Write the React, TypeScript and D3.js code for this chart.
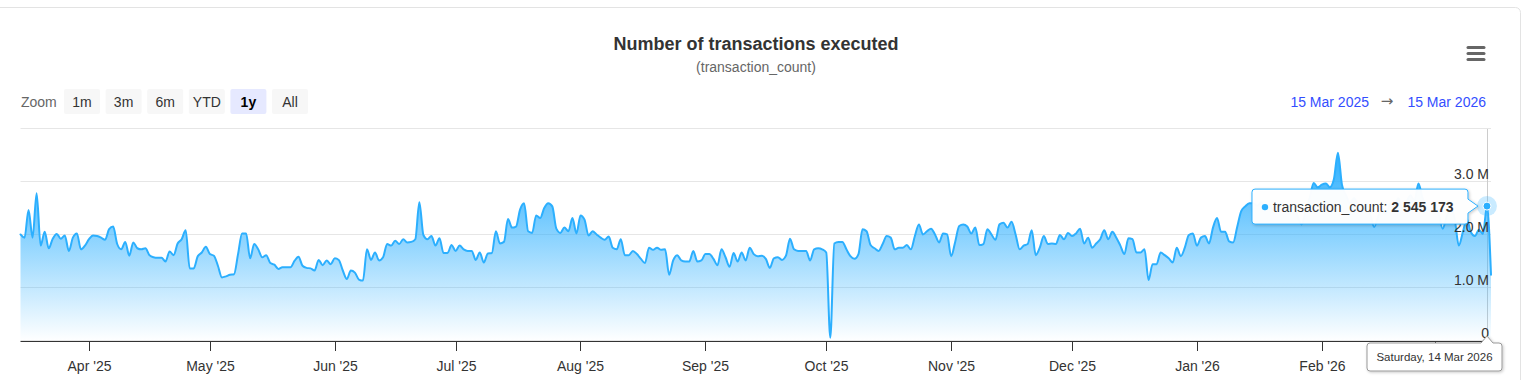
import React from "react";
import * as d3 from "d3";

// ---- data: daily transaction counts (millions), starting 15 Mar 2025 ----
const START = Date.UTC(2025, 2, 15);
const END = Date.UTC(2026, 2, 15);
const DAY = 86400000;

const mar2025 = [2.01, 1.95, 2.47, 1.95, 2.79, 1.8, 2.06, 1.75, 1.93, 2.02, 1.93, 1.99, 1.7, 1.95, 2.03, 1.73, 1.8];
const apr2025 = [1.92, 1.99, 1.98, 1.95, 1.91, 2.11, 2.16, 1.83, 1.73, 1.87, 1.61, 1.86, 1.75, 1.73, 1.75, 1.62, 1.58, 1.57, 1.57, 1.5, 1.69, 1.62, 1.84, 1.92, 2.09, 1.37, 1.37, 1.6, 1.67, 1.78];
const may2025 = [1.64, 1.61, 1.42, 1.2, 1.22, 1.25, 1.26, 1.64, 2.03, 2.03, 1.56, 1.83, 1.73, 1.58, 1.62, 1.47, 1.44, 1.36, 1.39, 1.39, 1.39, 1.51, 1.59, 1.42, 1.38, 1.37, 1.33, 1.53, 1.43, 1.52, 1.45];
const jun2025 = [1.56, 1.53, 1.33, 1.17, 1.33, 1.29, 1.16, 1.14, 1.73, 1.53, 1.67, 1.52, 1.58, 1.83, 1.8, 1.89, 1.83, 1.92, 1.86, 1.87, 1.92, 2.62, 2.0, 1.92, 1.98, 1.8, 1.94, 1.66, 1.66, 1.81];
const jul2025 = [1.7, 1.8, 1.73, 1.7, 1.7, 1.53, 1.67, 1.48, 1.65, 1.66, 2.07, 1.84, 1.87, 2.3, 2.14, 2.16, 2.48, 2.6, 2.07, 2.04, 2.37, 2.32, 2.51, 2.6, 2.54, 2.12, 2.04, 2.14, 2.07, 2.32, 2.03];
const aug2025 = [2.37, 2.29, 1.99, 2.07, 2.01, 1.95, 1.91, 1.97, 1.76, 1.73, 1.92, 1.62, 1.62, 1.7, 1.64, 1.55, 1.47, 1.76, 1.72, 1.76, 1.72, 1.73, 1.25, 1.52, 1.62, 1.52, 1.5, 1.5, 1.7, 1.5, 1.52];
const sep2025 = [1.64, 1.64, 1.55, 1.43, 1.73, 1.58, 1.4, 1.66, 1.5, 1.67, 1.52, 1.76, 1.64, 1.6, 1.61, 1.55, 1.38, 1.56, 1.58, 1.53, 1.61, 1.93, 1.73, 1.7, 1.7, 1.7, 1.52, 1.73, 1.75, 1.73];
const oct2025 = [1.67, 0.06, 1.84, 1.87, 1.87, 1.73, 1.6, 1.55, 1.64, 2.11, 2.07, 1.81, 1.75, 1.7, 1.83, 1.98, 1.95, 1.73, 1.76, 1.76, 1.81, 1.73, 1.98, 2.2, 2.01, 2.07, 2.12, 2.01, 1.86, 2.03, 2.01];
const nov2025 = [1.6, 1.87, 2.17, 2.2, 2.16, 2.03, 2.14, 1.81, 1.83, 2.11, 2.01, 1.91, 2.2, 2.23, 2.14, 2.25, 2.01, 1.73, 1.8, 1.83, 2.09, 1.62, 1.76, 1.98, 1.83, 1.84, 1.83, 2.0, 1.92, 2.04];
const dec2025 = [1.98, 2.03, 2.12, 1.84, 1.95, 1.76, 1.84, 1.92, 2.09, 1.92, 2.06, 1.95, 1.8, 1.64, 1.94, 1.92, 1.67, 1.67, 1.73, 1.15, 1.45, 1.45, 1.67, 1.62, 1.56, 1.48, 1.76, 1.6, 1.76, 2.0, 2.03];
const jan2026 = [1.8, 1.95, 1.98, 1.84, 2.14, 2.32, 2.06, 2.06, 1.88, 1.86, 2.15, 2.45, 2.54, 2.6, 2.6, 2.55, 2.62, 2.5, 2.58, 2.45, 2.55, 2.62, 2.48, 2.4, 2.55, 2.35, 2.2, 2.45, 2.7, 2.98, 2.9];
const feb2026 = [2.95, 2.97, 2.9, 3.05, 3.55, 2.95, 2.75, 2.6, 2.7, 2.55, 2.45, 2.6, 2.4, 2.15, 2.35, 2.5, 2.4, 2.6, 2.55, 2.7, 2.5, 2.62, 2.75, 2.65, 2.97, 2.7, 2.55, 2.45];
const mar2026 = [2.6, 2.4, 2.12, 2.35, 2.5, 2.3, 1.8, 2.05, 2.3, 2.05, 1.98, 2.1, 2.02, 2.545173, 1.25];

const yTicks = [0, 1, 2, 3, 4];
const zoomButtons = ["1m", "3m", "6m", "YTD", "1y", "All"];
const selectedButton = "1y";
const rangeFrom = "15 Mar 2025";
const rangeTo = "15 Mar 2026";
const title = "Number of transactions executed";
const subtitle = "(transaction_count)";
const seriesName = "transaction_count";
const hoverIndex = 364;

const COLOR = "#2caffe";
const FONT = "'Liberation Sans', Arial, Helvetica, sans-serif";

type Pt = { date: Date; value: number };

export default function App() {
  const all = [mar2025, apr2025, may2025, jun2025, jul2025, aug2025, sep2025, oct2025, nov2025, dec2025, jan2026, feb2026, mar2026].flat();
  const data: Pt[] = all.map((v, i) => ({ date: new Date(START + i * DAY), value: v }));

  const PL = 20.5, PR = 1491, PT = 129, PB = 341;
  const x = d3.scaleUtc().domain([new Date(START), new Date(END)]).range([PL, PR]);
  const y = d3.scaleLinear().domain([0, 4]).range([PB, PT]);

  const area = d3.area<Pt>().x((d) => x(d.date)).y0(y(0)).y1((d) => y(d.value)).curve(d3.curveMonotoneX);
  const line = d3.line<Pt>().x((d) => x(d.date)).y((d) => y(d.value)).curve(d3.curveMonotoneX);

  const monthTicks = d3.utcMonth.range(new Date(START), new Date(END + 1));
  const fmt = d3.utcFormat("%b '%y");
  const crisp = (v: number) => Math.round(v) - 0.5;

  const hp = data[hoverIndex];
  const hx = x(hp.date);
  const hy = y(hp.value);
  const valueText = d3.format(",")(Math.round(hp.value * 1e6)).replace(/,/g, " ");
  const dateText = d3.utcFormat("%A, %-d %b %Y")(hp.date);

  // tooltip geometry
  const tipR = hx - 19, tipL = tipR - 216, tipT = hy - 17, tipB = hy + 18;
  const dl = 1367, dr = 1502, dt = 343, db = 371;
  const hxR = Math.round(hx);

  return (
    <svg width={1529} height={380} style={{ position: "absolute", left: 0, top: 0, fontFamily: FONT }}>
      <defs>
        <linearGradient id="areaGrad" x1="0" y1="0" x2="0" y2="1">
          <stop offset="0" stopColor={COLOR} stopOpacity={1} />
          <stop offset="1" stopColor={COLOR} stopOpacity={0} />
        </linearGradient>
        <filter id="shadow" x="-20%" y="-30%" width="140%" height="170%">
          <feDropShadow dx="1" dy="1" stdDeviation="1.5" floodColor="#000" floodOpacity="0.22" />
        </filter>
      </defs>
      <rect x={-20} y={7.5} width={1540.5} height={420} rx={5} fill="#fff" stroke="#e3e3e3" />

      <text x={756} y={50} textAnchor="middle" fontSize={18} fontWeight="bold" fill="#333">{title}</text>
      <text x={756} y={72} textAnchor="middle" fontSize={14} fill="#666">{subtitle}</text>

      {/* context menu */}
      <g stroke="#666" strokeWidth={3} strokeLinecap="round">
        {[47.5, 53.5, 59.5].map((yy) => (
          <line key={yy} x1={1468} x2={1484} y1={yy} y2={yy} />
        ))}
      </g>

      {/* range selector */}
      <text x={21} y={106.5} fontSize={14} fill="#666">Zoom</text>
      {zoomButtons.map((b, i) => {
        const bx = 64 + i * 41.6;
        const sel = b === selectedButton;
        return (
          <g key={b}>
            <rect x={bx} y={89} width={36} height={25} rx={2} fill={sel ? "#e6e9ff" : "#f7f7f7"} />
            <text x={bx + 18} y={106.5} textAnchor="middle" fontSize={14} fill={sel ? "#000" : "#333"} fontWeight={sel ? "bold" : "normal"}>{b}</text>
          </g>
        );
      })}
      <text x={1369} y={107} textAnchor="end" fontSize={14} fill="#334eff">{rangeFrom}</text>
      <text x={1387} y={106} textAnchor="middle" fontSize={15} fill="#666" fontFamily="'DejaVu Sans', sans-serif">→</text>
      <text x={1486} y={107} textAnchor="end" fontSize={14} fill="#334eff">{rangeTo}</text>

      {/* grid */}
      {yTicks.map((t) => (
        <line key={t} x1={PL} x2={PR} y1={crisp(y(t))} y2={crisp(y(t))} stroke="#e6e6e6" />
      ))}

      {/* crosshair */}
      <line x1={hxR + 0.5} x2={hxR + 0.5} y1={PT} y2={PB} stroke="#cccccc" />

      {/* series */}
      <path d={area(data) || ""} fill="url(#areaGrad)" />
      <path d={line(data) || ""} fill="none" stroke={COLOR} strokeWidth={2} strokeLinejoin="round" strokeLinecap="round" />

      {/* x axis */}
      <line x1={PL} x2={PR} y1={PB + 0.5} y2={PB + 0.5} stroke="#333" />
      {monthTicks.map((m) => {
        const tx = Math.round(x(m)) + 0.5;
        return (
          <g key={m.getTime()}>
            <line x1={tx} x2={tx} y1={PB} y2={PB + 10} stroke="#333" />
            <text x={tx} y={371} textAnchor="middle" fontSize={14} fill="#333">{fmt(m)}</text>
          </g>
        );
      })}

      {/* y labels */}
      {yTicks.slice(0, 4).map((t) => (
        <text key={t} x={1489} y={crisp(y(t)) - 3} textAnchor="end" fontSize={14} fill="#333">
          {t === 0 ? "0" : `${t.toFixed(1)} M`}
        </text>
      ))}

      {/* hover marker */}
      <circle cx={hx} cy={hy} r={10} fill={COLOR} opacity={0.25} />
      <circle cx={hx} cy={hy} r={4} fill={COLOR} stroke="#fff" strokeWidth={1} />

      {/* tooltip */}
      <path
        d={`M${tipL + 3},${tipT} H${tipR - 3} Q${tipR},${tipT} ${tipR},${tipT + 3} V${hy - 7} L${hx - 9},${hy} L${tipR},${hy + 7} V${tipB - 3} Q${tipR},${tipB} ${tipR - 3},${tipB} H${tipL + 3} Q${tipL},${tipB} ${tipL},${tipB - 3} V${tipT + 3} Q${tipL},${tipT} ${tipL + 3},${tipT} Z`}
        fill="rgba(255,255,255,0.97)"
        stroke={COLOR}
        filter="url(#shadow)"
      />
      <circle cx={tipL + 13} cy={hy + 1} r={3.2} fill={COLOR} />
      <text x={tipL + 21} y={hy + 6} fontSize={14} fill="#333">
        {seriesName}: <tspan fontWeight="bold">{valueText}</tspan>
      </text>

      {/* date label */}
      <path
        d={`M${dl + 3},${dt} H${hxR - 6} L${hxR},${dt - 7} L${hxR + 6},${dt} H${dr - 3} Q${dr},${dt} ${dr},${dt + 3} V${db - 3} Q${dr},${db} ${dr - 3},${db} H${dl + 3} Q${dl},${db} ${dl},${db - 3} V${dt + 3} Q${dl},${dt} ${dl + 3},${dt} Z`}
        fill="#fff"
        stroke="#999"
        filter="url(#shadow)"
      />
      <text x={(dl + dr) / 2} y={361} textAnchor="middle" fontSize={11.5} fill="#333">{dateText}</text>
    </svg>
  );
}
